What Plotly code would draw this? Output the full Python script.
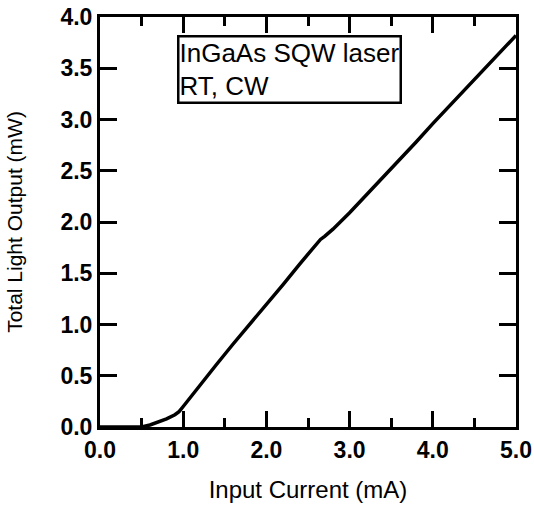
import plotly.graph_objects as go

# Light output vs. drive current (L-I curve), room temperature, CW
current_mA = [0.0, 0.2, 0.4, 0.5, 0.6, 0.7, 0.8, 0.9, 0.95, 1.0, 1.1, 1.2, 1.3, 1.4, 1.6, 1.8,
              2.0, 2.2, 2.4, 2.6, 2.65, 2.7, 2.8, 3.0, 3.2, 3.4, 3.6, 3.8, 4.0,
              4.2, 4.4, 4.6, 4.8, 5.0]
output_mW = [0.0, 0.0, 0.0, 0.0, 0.02, 0.05, 0.08, 0.12, 0.15, 0.20, 0.305, 0.41, 0.51, 0.61, 0.81, 1.00,
             1.19, 1.39, 1.59, 1.79, 1.83, 1.86, 1.93, 2.09, 2.26, 2.44, 2.61, 2.78, 2.96,
             3.13, 3.30, 3.48, 3.65, 3.82]

x_ticks = [0, 1, 2, 3, 4, 5]
y_ticks = [0, 0.5, 1.0, 1.5, 2.0, 2.5, 3.0, 3.5, 4.0]

FONT = "Liberation Sans, Arial, sans-serif"

fig = go.Figure()
fig.add_trace(go.Scatter(
    x=current_mA, y=output_mW, mode="lines",
    line=dict(color="black", width=3.5),
    showlegend=False,
))

axis_common = dict(
    showline=True, linecolor="black", linewidth=3, mirror="allticks",
    ticks="inside", tickcolor="black", tickwidth=2.5,
    showgrid=False, zeroline=False, automargin=False,
    tickfont=dict(family=FONT, size=23, color="black", weight="bold"),
    tickformat=".1f",
)

fig.update_xaxes(
    **axis_common,
    range=[0, 5], tickvals=x_ticks, ticklen=16,
    minor=dict(dtick=0.5, ticks="inside", ticklen=9, tickwidth=2.5, tickcolor="black", showgrid=False),
    title=dict(text="Input Current (mA)", font=dict(family=FONT, size=24, color="black"), standoff=20),
)
fig.update_yaxes(
    **axis_common,
    range=[0, 4], tickvals=y_ticks, ticklen=17,
    title=dict(text="Total Light Output (mW)", font=dict(family=FONT, size=21, color="black"), standoff=33),
)

fig.add_annotation(
    xref="paper", yref="paper", x=0.1855, y=0.956,
    xanchor="left", yanchor="top", align="left", showarrow=False,
    text="InGaAs SQW laser<br>RT, CW",
    font=dict(family=FONT, size=26, color="black"),
    bordercolor="black", borderwidth=2.5, borderpad=0, bgcolor="white",
)

fig.update_layout(
    width=534, height=508,
    margin=dict(l=100, r=18, t=17, b=81),
    paper_bgcolor="white", plot_bgcolor="white",
)

fig.write_html("out.html")
